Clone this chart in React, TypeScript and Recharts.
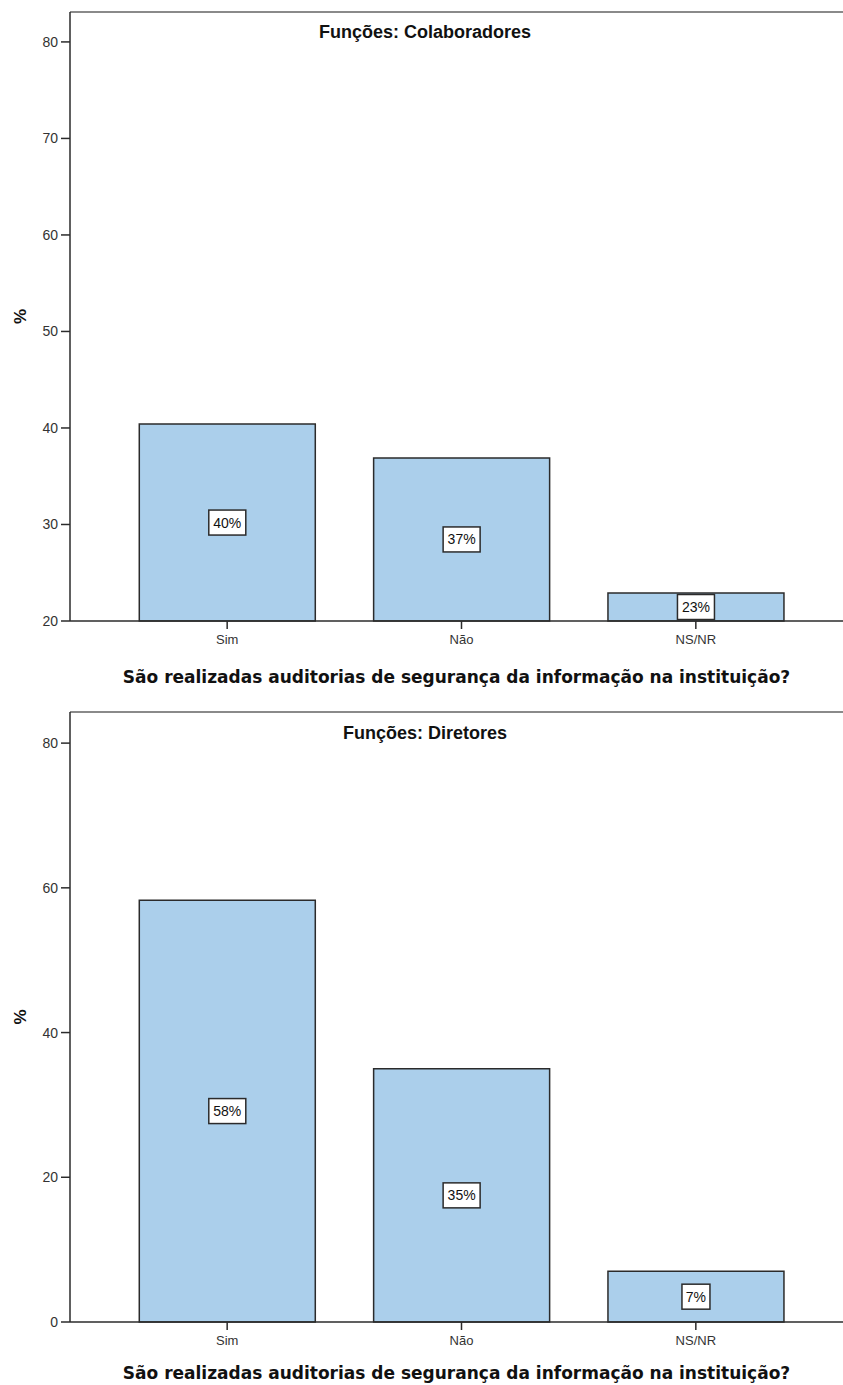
import React from "react";
import {
  BarChart,
  Bar,
  XAxis,
  YAxis,
  ReferenceLine,
  LabelList,
  Label,
} from "recharts";

const CATEGORIES = ["Sim", "Não", "NS/NR"];
const COLAB_VALUES = [40.4, 36.9, 22.9];
const DIRET_VALUES = [58.3, 35.0, 7.0];
const COLAB_TICKS = [20, 30, 40, 50, 60, 70, 80];
const DIRET_TICKS = [0, 20, 40, 60, 80];

const AXIS_TITLE = "São realizadas auditorias de segurança da informação na instituição?";

const FONT = "'Liberation Sans', Arial, sans-serif";
const WIDE_FONT = "'DejaVu Sans', Verdana, sans-serif";
const BAR_FILL = "#abcfeb";
const DARK = "#2b2b2b";

const colabRows = CATEGORIES.map((c, i) => ({ cat: c, pct: COLAB_VALUES[i] }));
const diretRows = CATEGORIES.map((c, i) => ({ cat: c, pct: DIRET_VALUES[i] }));

// white box with the rounded percentage, centred in the bar
const renderValueBox = (props: any) => {
  const { x, y, width, height, value } = props;
  const cx = Number(x) + Number(width) / 2;
  const cy = Number(y) + Number(height) / 2;
  const text = `${Math.round(Number(value))}%`;
  const w = text.length * 9 + 10;
  const h = 25;
  return (
    <g>
      <rect x={cx - w / 2} y={cy - h / 2} width={w} height={h} fill="#fff" stroke={DARK} strokeWidth={1.5} />
      <text x={cx} y={cy + 5} textAnchor="middle" fontSize={14} fontFamily={FONT} fill="#111">
        {text}
      </text>
    </g>
  );
};

interface PanelProps {
  title: string;
  rows: { cat: string; pct: number }[];
  ticks: number[];
  domain: [number, number];
  height: number;
  marginTop: number;
  xAxisHeight: number;
  titleGap: number;
  axisTitleOffset: number;
}

function Panel({ title, rows, ticks, domain, height, marginTop, xAxisHeight, titleGap, axisTitleOffset }: PanelProps) {
  return (
    <BarChart
      width={843}
      height={height}
      data={rows}
      margin={{ top: marginTop, right: 0, bottom: 0, left: 0 }}
      barCategoryGap="12.5%"
    >
      <XAxis
        dataKey="cat"
        height={xAxisHeight}
        padding={{ left: 40, right: 30 }}
        tickSize={8}
        tickMargin={6}
        tick={{ fill: "#333", fontSize: 13, fontFamily: FONT }}
        axisLine={{ stroke: DARK, strokeWidth: 1.5 }}
        tickLine={{ stroke: DARK, strokeWidth: 1.5 }}
      >
        <Label
          value={AXIS_TITLE}
          position="insideTop"
          offset={axisTitleOffset}
          style={{ fontSize: 17, fontWeight: "bold", fontFamily: WIDE_FONT, fill: "#111" }}
        />
      </XAxis>
      <YAxis
        type="number"
        domain={domain}
        ticks={ticks}
        width={70}
        tickSize={9}
        tickMargin={3}
        tick={{ fill: "#333", fontSize: 14, fontFamily: FONT }}
        axisLine={{ stroke: DARK, strokeWidth: 1.5 }}
        tickLine={{ stroke: DARK, strokeWidth: 1.5 }}
        label={(p: any) => {
          const vb = p.viewBox;
          const cy = vb.y + vb.height / 2;
          return (
            <text
              x={20}
              y={cy}
              transform={`rotate(-90, 20, ${cy})`}
              textAnchor="middle"
              dominantBaseline="central"
              fontSize={17}
              fontWeight="bold"
              fontFamily={FONT}
              fill="#111"
            >
              %
            </text>
          );
        }}
      />
      <ReferenceLine
        y={domain[1]}
        stroke="#8a8a8a"
        strokeWidth={2}
        ifOverflow="visible"
        label={(p: any) => {
          const vb = p.viewBox;
          return (
            <text
              x={vb.x + 355}
              y={vb.y + titleGap}
              textAnchor="middle"
              fontSize={18}
              fontWeight="bold"
              fontFamily={FONT}
              fill="#111"
            >
              {title}
            </text>
          );
        }}
      />
      <Bar dataKey="pct" fill={BAR_FILL} stroke={DARK} strokeWidth={1.5} isAnimationActive={false}>
        <LabelList dataKey="pct" content={renderValueBox} />
      </Bar>
    </BarChart>
  );
}

export default function App() {
  return (
    <div style={{ position: "absolute", left: 0, top: 0, width: 843, height: 1385, background: "#fff" }}>
      <Panel
        title="Funções: Colaboradores"
        rows={colabRows}
        ticks={COLAB_TICKS}
        domain={[20, 83.1]}
        height={692}
        marginTop={12}
        xAxisHeight={71}
        titleGap={26}
        axisTitleOffset={50}
      />
      <Panel
        title="Funções: Diretores"
        rows={diretRows}
        ticks={DIRET_TICKS}
        domain={[0, 84.3]}
        height={693}
        marginTop={20}
        xAxisHeight={63}
        titleGap={27}
        axisTitleOffset={45}
      />
    </div>
  );
}
